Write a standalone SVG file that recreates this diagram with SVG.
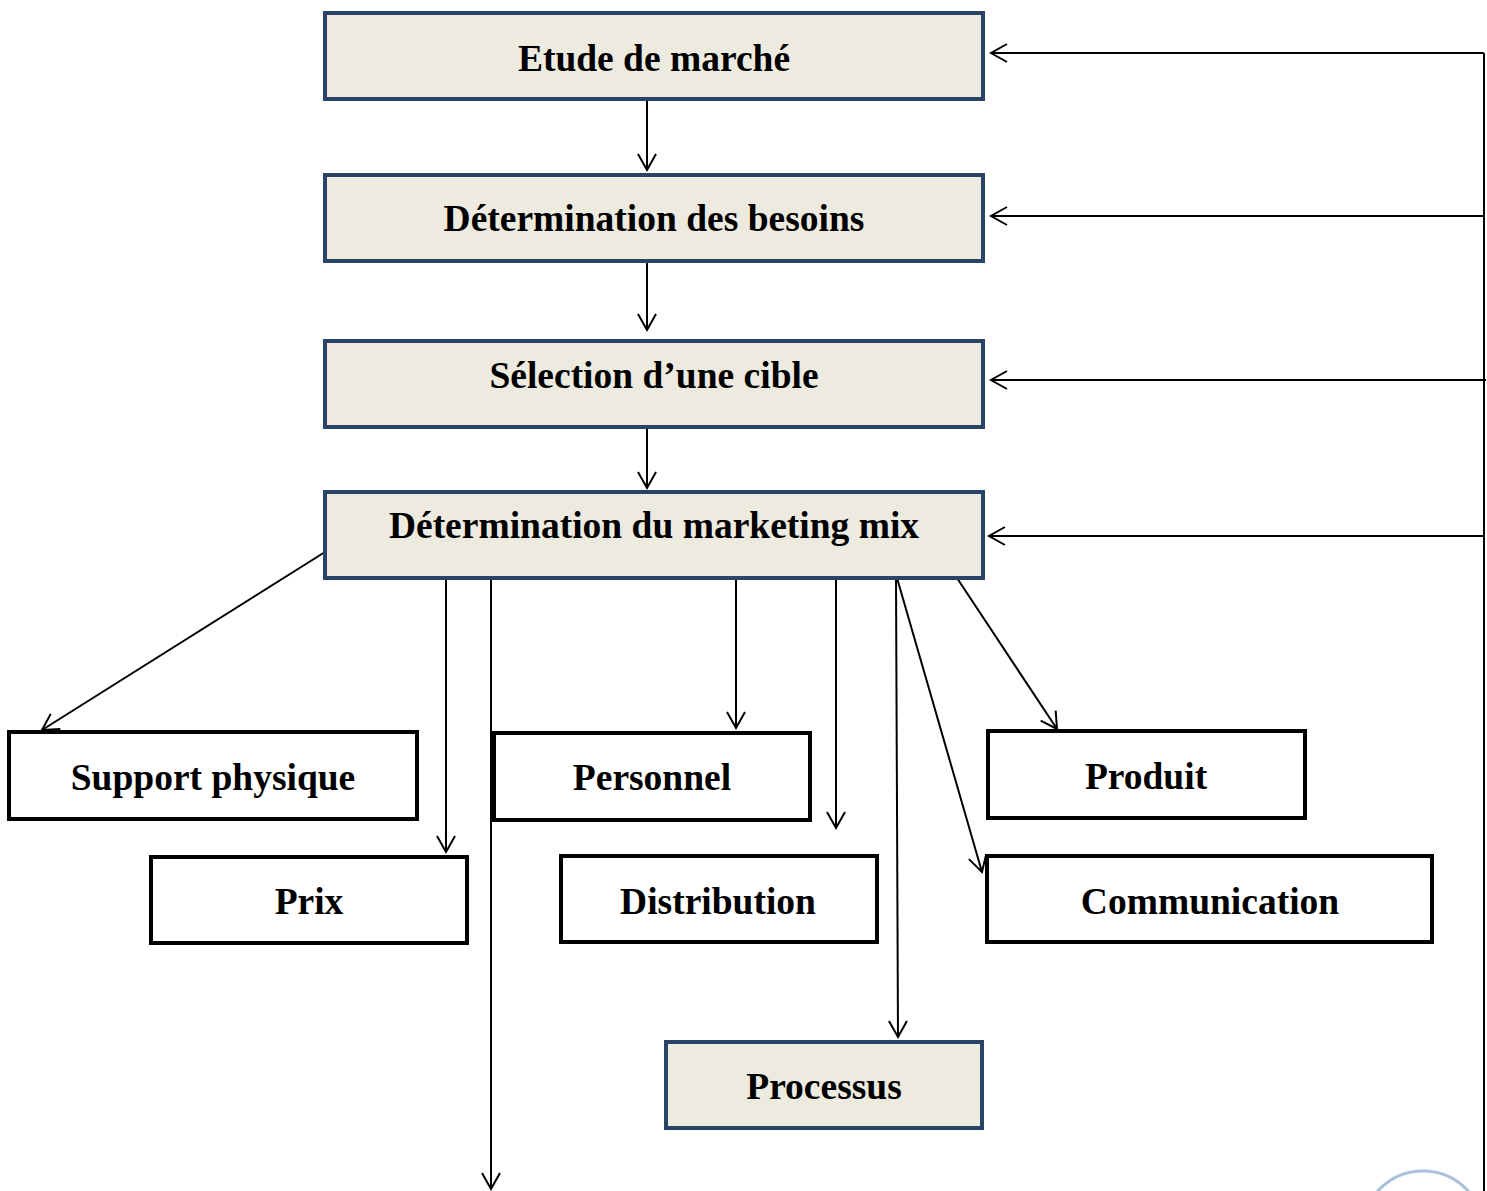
<svg xmlns="http://www.w3.org/2000/svg" width="1487" height="1191" viewBox="0 0 1487 1191">
<style>
.f{fill:#edeae0;stroke:#2a4468;stroke-width:4}
.o{fill:#fff;stroke:#000;stroke-width:4}
.t{font-family:"Liberation Serif","Times New Roman",serif;font-weight:bold;font-size:37.5px;fill:#000;text-anchor:middle}
.c line,.c path{stroke:#000;stroke-width:2;fill:none;marker-end:url(#a)}
</style>
<defs>
<marker id="a" markerUnits="userSpaceOnUse" markerWidth="24" markerHeight="24" refX="20" refY="10" orient="auto" viewBox="0 0 24 20">
<path d="M4,1 L20,10 L4,19" fill="none" stroke="#000" stroke-width="2"/>
</marker>
</defs>
<rect width="1487" height="1191" fill="#fff"/>
<g class="c">
<line x1="647" y1="99" x2="647" y2="170"/>
<line x1="647" y1="261" x2="647" y2="330"/>
<line x1="647" y1="418" x2="647" y2="488"/>
<path d="M1484,53 L1484,1191" style="marker-end:none"/>
<line x1="1484" y1="53" x2="991" y2="53"/>
<line x1="1484" y1="216" x2="991" y2="216"/>
<line x1="1486" y1="380" x2="991" y2="380"/>
<line x1="1484" y1="536" x2="989" y2="536"/>
<line x1="325" y1="552" x2="42" y2="730"/>
<line x1="446" y1="578" x2="446" y2="852"/>
<line x1="491" y1="578" x2="491" y2="1189"/>
<line x1="736" y1="578" x2="736" y2="728"/>
<line x1="836" y1="578" x2="836" y2="828"/>
<line x1="896" y1="578" x2="898" y2="1037"/>
<line x1="897" y1="578" x2="982" y2="872"/>
<line x1="957" y1="578" x2="1057" y2="729"/>
</g>
<g id="n1"><rect class="f" x="325" y="13" width="658" height="86"/><text class="t" x="654" y="71">Etude de marché</text></g>
<g id="n2"><rect class="f" x="325" y="175" width="658" height="86"/><text class="t" x="654" y="231">Détermination des besoins</text></g>
<g id="n3"><rect class="f" x="325" y="341" width="658" height="86"/><text class="t" x="654" y="388">Sélection d’une cible</text></g>
<g id="n4"><rect class="f" x="325" y="492" width="658" height="86"/><text class="t" x="654" y="538">Détermination du marketing mix</text></g>
<g id="n5"><rect class="o" x="9" y="732" width="408" height="87"/><text class="t" x="213" y="790">Support physique</text></g>
<g id="n6"><rect class="o" x="151" y="857" width="316" height="86"/><text class="t" x="309" y="914">Prix</text></g>
<g id="n7"><rect class="o" x="494" y="733" width="316" height="87"/><text class="t" x="652" y="790">Personnel</text></g>
<g id="n8"><rect class="o" x="561" y="856" width="316" height="86"/><text class="t" x="718" y="914">Distribution</text></g>
<g id="n9"><rect class="o" x="988" y="731" width="317" height="87"/><text class="t" x="1146" y="789">Produit</text></g>
<g id="n10"><rect class="o" x="987" y="856" width="445" height="86"/><text class="t" x="1210" y="914">Communication</text></g>
<g id="n11"><rect class="f" x="666" y="1042" width="316" height="86"/><text class="t" x="824" y="1099">Processus</text></g>
<circle cx="1423" cy="1232" r="61" fill="none" stroke="#a9c1dd" stroke-width="3"/>
</svg>
